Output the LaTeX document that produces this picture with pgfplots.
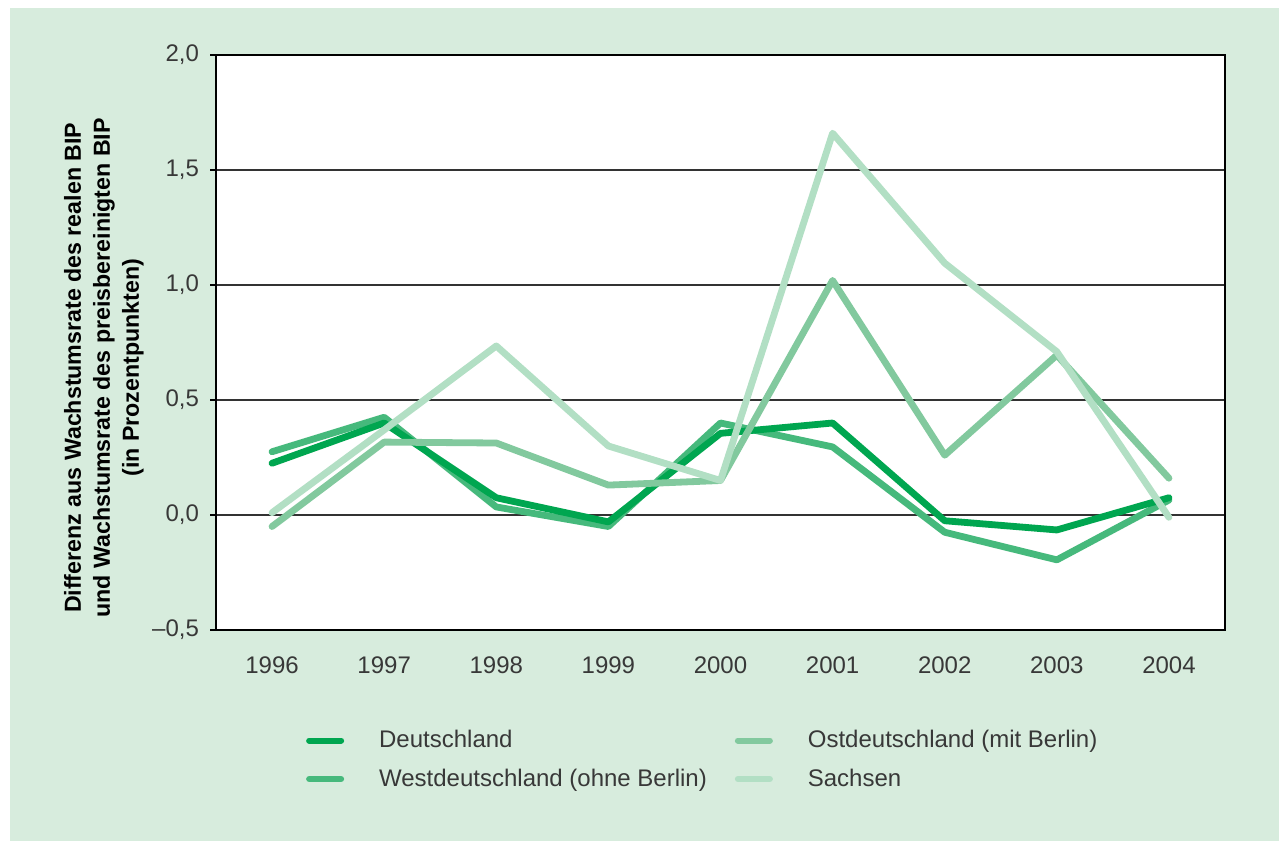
\documentclass[border=0pt]{standalone}
\usepackage{pgfplots}
\pgfplotsset{compat=1.18}
\usepackage{fontspec}
\setmainfont{Liberation Sans}
\definecolor{bgc}{HTML}{D7ECDD}
\definecolor{cde}{HTML}{00A650}
\definecolor{cwe}{HTML}{46B97C}
\definecolor{cos}{HTML}{82C99E}
\definecolor{csa}{HTML}{B2DFC4}
\definecolor{txt}{HTML}{383838}
\begin{document}
\begin{tikzpicture}
\fill[white] (0,0) rectangle (639.5pt,420.5pt);
\fill[bgc] (5pt,0) rectangle (639.5pt,416.5pt);
\begin{axis}[
  at={(108pt,105.5pt)}, anchor=south west,
  scale only axis, width=504.5pt, height=287.5pt,
  xmin=1995.5, xmax=2004.5, ymin=-0.5, ymax=2.0,
  axis background/.style={fill=white},
  axis line style={black, line width=0.9pt},
  font=\fontsize{12}{14}\selectfont\color{txt},
  /pgf/number format/assume math mode=true,
  xtick={1996,1997,1998,1999,2000,2001,2002,2003,2004},
  xticklabels={1996,1997,1998,1999,2000,2001,2002,2003,2004},
  minor xtick={1995.5,1996.5,1997.5,1998.5,1999.5,2000.5,2001.5,2002.5,2003.5,2004.5},
  xtick pos=bottom, ytick pos=left,
  tick align=outside,
  major tick length=3pt, minor tick length=4pt,
  xtick style={draw=none},
  minor tick style={black, line width=0.7pt},
  ytick style={black, line width=0.7pt},
  xticklabel style={yshift=-7pt},
  ytick={-0.5,0,0.5,1,1.5,2},
  yticklabels={{--0,5},{0,0},{0,5},{1,0},{1,5},{2,0}},
  yticklabel style={xshift=-2pt},
  ymajorgrids, grid style={black!80, line width=0.6pt},
  ylabel={Differenz aus Wachstumsrate des realen BIP\\und Wachstumsrate des preisbereinigten BIP\\(in Prozentpunkten)},
  every axis y label/.style={at={(rel axis cs:0,0.456)}, xshift=-56pt, rotate=90, anchor=center,
     align=center, font=\fontsize{11.6}{14.5}\selectfont\bfseries\color{black}},
  legend columns=2,
  legend cell align=left,
  legend style={at={(rel axis cs:0.083,0)}, anchor=north west, yshift=-46pt, draw=none, fill=none,
    font=\fontsize{12}{14}\selectfont\color{txt},
    /tikz/every even column/.append style={column sep=12pt},
    row sep=5pt},
  legend image code/.code={\draw[#1, line width=3pt, line cap=round] (0pt,0pt) -- (16pt,0pt); \path[draw=none] (0pt,0pt) -- (33pt,0pt);},
  every axis plot/.append style={line width=3.4pt, line join=round, line cap=round},
]
\addlegendimage{cde}
\addlegendimage{cos}
\addlegendimage{cwe}
\addlegendimage{csa}
\addplot[cwe, forget plot] coordinates {(1996,0.275) (1997,0.425) (1998,0.035) (1999,-0.05) (2000,0.40) (2001,0.296) (2002,-0.075) (2003,-0.195) (2004,0.065)};
\addplot[cde, forget plot] coordinates {(1996,0.225) (1997,0.40) (1998,0.075) (1999,-0.03) (2000,0.355) (2001,0.40) (2002,-0.025) (2003,-0.065) (2004,0.075)};
\addplot[cos, forget plot] coordinates {(1996,-0.05) (1997,0.317) (1998,0.313) (1999,0.13) (2000,0.15) (2001,1.02) (2002,0.26) (2003,0.695) (2004,0.16)};
\addplot[csa, forget plot] coordinates {(1996,0.01) (1997,0.37) (1998,0.735) (1999,0.30) (2000,0.15) (2001,1.66) (2002,1.095) (2003,0.71) (2004,-0.01)};
\legend{Deutschland, Ostdeutschland (mit Berlin), Westdeutschland (ohne Berlin), Sachsen}
\end{axis}
\end{tikzpicture}
\end{document}
